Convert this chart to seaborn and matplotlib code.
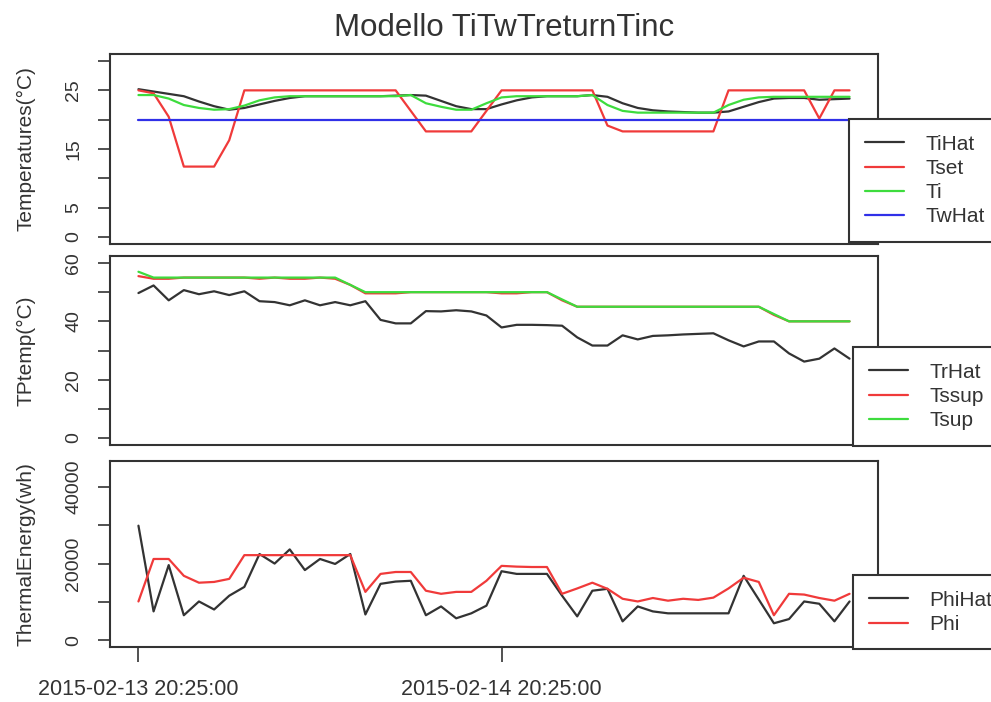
# Modello TiTwTreturnTinc - three stacked panels (temperatures, supply/return, thermal energy)

import pandas as pd
import seaborn as sns
import matplotlib.pyplot as plt

sns.set_style("white")
plt.rcParams['font.family'] = ['Liberation Sans', 'DejaVu Sans']

# hourly time axis
times = pd.date_range("2015-02-13 20:25:00", periods=48, freq="h")
tick_times = [pd.Timestamp("2015-02-13 20:25:00"), pd.Timestamp("2015-02-14 20:25:00")]
tick_labels = ["2015-02-13 20:25:00", "2015-02-14 20:25:00"]

# panel 1: temperatures (C)
TiHat = [25.2, 24.8, 24.4, 24.0, 23.1, 22.3, 21.7, 22.0, 22.6, 23.2,
         23.7, 24.0, 24.0, 24.0, 24.0, 24.0, 24.0, 24.1, 24.2, 24.1,
         23.2, 22.3, 21.8, 21.8, 22.6, 23.3, 23.8, 24.0, 24.0, 24.0,
         24.2, 23.9, 22.8, 22.0, 21.6, 21.4, 21.3, 21.2, 21.2, 21.4,
         22.2, 23.0, 23.6, 23.7, 23.7, 23.4, 23.5, 23.6]
Tset = [25, 24.5, 20.5, 12, 12, 12, 16.5, 25, 25, 25,
        25, 25, 25, 25, 25, 25, 25, 25, 21.5, 18,
        18, 18, 18, 21.5, 25, 25, 25, 25, 25, 25,
        25, 19, 18, 18, 18, 18, 18, 18, 18, 25,
        25, 25, 25, 25, 25, 20.2, 25, 25]
Ti = [24.2, 24.2, 23.6, 22.5, 22.0, 21.7, 21.8, 22.4, 23.3, 23.8,
      24.0, 24.0, 24.0, 24.0, 24.0, 24.0, 24.0, 24.0, 24.2, 22.8,
      22.2, 21.7, 21.7, 22.8, 23.8, 24.0, 24.0, 24.0, 24.0, 24.0,
      24.2, 22.5, 21.5, 21.2, 21.2, 21.2, 21.2, 21.2, 21.2, 22.5,
      23.4, 23.8, 23.9, 23.9, 23.9, 23.9, 23.9, 23.9]
TwHat = [20, 20, 20, 20, 20, 20, 20, 20, 20, 20,
         20, 20, 20, 20, 20, 20, 20, 20, 20, 20,
         20, 20, 20, 20, 20, 20, 20, 20, 20, 20,
         20, 20, 20, 20, 20, 20, 20, 20, 20, 20,
         20, 20, 20, 20, 20, 20, 20, 20]

# panel 2: supply / return temperatures (C)
TrHat = [49.7, 52.3, 47.2, 50.7, 49.3, 50.3, 49.0, 50.3, 46.9, 46.6,
         45.5, 47.2, 45.5, 46.6, 45.5, 46.9, 40.5, 39.3, 39.3, 43.5,
         43.4, 43.8, 43.4, 42.0, 37.9, 38.8, 38.8, 38.7, 38.5, 34.5,
         31.7, 31.7, 35.2, 33.8, 35.0, 35.2, 35.5, 35.7, 35.9, 33.5,
         31.4, 33.1, 33.1, 29.0, 26.2, 27.2, 30.7, 27.2]
Tssup = [55.5, 54.6, 54.6, 55, 55, 55, 55, 55, 54.6, 55,
         54.6, 54.6, 55, 54.6, 52.5, 49.6, 49.6, 49.6, 50, 50,
         50, 50, 50, 50, 49.6, 49.6, 50, 50, 47.2, 45,
         45, 45, 45, 45, 45, 45, 45, 45, 45, 45,
         45, 45, 42.2, 40, 40, 40, 40, 40]
Tsup = [57, 55, 55, 55, 55, 55, 55, 55, 55, 55,
        55, 55, 55, 55, 52.5, 50, 50, 50, 50, 50,
        50, 50, 50, 50, 50, 50, 50, 50, 47.5, 45,
        45, 45, 45, 45, 45, 45, 45, 45, 45, 45,
        45, 45, 42.5, 40, 40, 40, 40, 40]

# panel 3: thermal energy (wh)
PhiHat = [29900, 7500, 19600, 6500, 10100, 8000, 11600, 13900, 22500, 20000,
          23700, 18300, 21200, 19900, 22500, 6700, 14700, 15300, 15500, 6500,
          8800, 5700, 7000, 9000, 18000, 17300, 17300, 17300, 11600, 6200,
          12900, 13400, 4900, 8800, 7500, 7000, 7000, 7000, 7000, 7000,
          16800, 10600, 4400, 5500, 10100, 9500, 4900, 10100]
Phi = [10100, 21200, 21200, 16800, 15000, 15200, 16000, 22200, 22200, 22200,
       22200, 22200, 22200, 22200, 22200, 12600, 17300, 17800, 17800, 12900,
       12100, 12600, 12600, 15500, 19400, 19200, 19100, 19100, 12100, 13500,
       15000, 13400, 10800, 10100, 11000, 10300, 10800, 10500, 11100, 13500,
       16300, 15200, 6500, 12100, 11900, 11000, 10300, 12100]

BLACK = "#333333"
RED = "#f03a3a"
GREEN = "#3ddc3d"
BLUE = "#3030e8"

W, H = 991, 702
fig = plt.figure(figsize=(W / 100, H / 100), dpi=100)


def px_axes(left, top, right, bottom):
    return fig.add_axes([left / W, 1 - bottom / H, (right - left) / W, (bottom - top) / H])


ax1 = px_axes(110, 54, 878, 244)
ax2 = px_axes(110, 256, 878, 445)
ax3 = px_axes(110, 461, 878, 647)

xmin = times[0] - pd.Timedelta(hours=1.88)
xmax = times[-1] + pd.Timedelta(hours=1.88)


def draw(ax, series):
    for name, vals, col in series:
        sns.lineplot(x=times, y=vals, color=col, lw=1.6, label=name, ax=ax)


def style(ax, ylim, yticks, ylabels, ylabel, legend_xy):
    ax.set_xlim(xmin, xmax)
    ax.set_ylim(*ylim)
    ax.set_yticks(yticks)
    ax.set_yticklabels(ylabels, rotation=90, va="center", fontsize=14, color=BLACK)
    ax.tick_params(axis="y", left=True, direction="out", length=9, width=1.2,
                   pad=11, color=BLACK)
    for sp in ax.spines.values():
        sp.set_color(BLACK)
        sp.set_linewidth(1.5)
    ax.set_xlabel("")
    ax.set_ylabel(ylabel, fontsize=15, color=BLACK, va="center")
    ax.yaxis.set_label_coords(-0.11, 0.5)
    leg = ax.legend(loc="upper left", bbox_to_anchor=(legend_xy[0] / W, 1 - legend_xy[1] / H),
                    bbox_transform=fig.transFigure, fontsize=15, frameon=True,
                    fancybox=False, framealpha=1, edgecolor=BLACK, borderaxespad=0,
                    handlelength=1.9, handletextpad=1.0, borderpad=0.75, labelspacing=0.25)
    leg.get_frame().set_linewidth(1.5)
    for t in leg.get_texts():
        t.set_color(BLACK)


draw(ax1, [("TiHat", TiHat, BLACK), ("Tset", Tset, RED), ("Ti", Ti, GREEN), ("TwHat", TwHat, BLUE)])
style(ax1, (-1.2, 31.2), [0, 5, 10, 15, 20, 25, 30], ["0", "5", "", "15", "", "25", ""],
      "Temperatures(°C)", (849, 119))
ax1.tick_params(axis="x", bottom=False, labelbottom=False)
ax1.set_title("Modello TiTwTreturnTinc", fontsize=22.5, pad=13, color=BLACK, x=0.513)

draw(ax2, [("TrHat", TrHat, BLACK), ("Tssup", Tssup, RED), ("Tsup", Tsup, GREEN)])
style(ax2, (-2.4, 62.4), [0, 10, 20, 30, 40, 50, 60], ["0", "", "20", "", "40", "", "60"],
      "TPtemp(°C)", (853, 347))
ax2.tick_params(axis="x", bottom=False, labelbottom=False)

draw(ax3, [("PhiHat", PhiHat, BLACK), ("Phi", Phi, RED)])
style(ax3, (-1800, 46800), [0, 10000, 20000, 30000, 40000], ["0", "", "20000", "", "40000"],
      "ThermalEnergy(wh)", (853, 575))
ax3.set_xticks(tick_times)
ax3.set_xticklabels(tick_labels, fontsize=15.5, color=BLACK)
ax3.tick_params(axis="x", bottom=True, direction="out", length=11, width=1.2, pad=12, color=BLACK)

fig.savefig("out.png", dpi=100)
